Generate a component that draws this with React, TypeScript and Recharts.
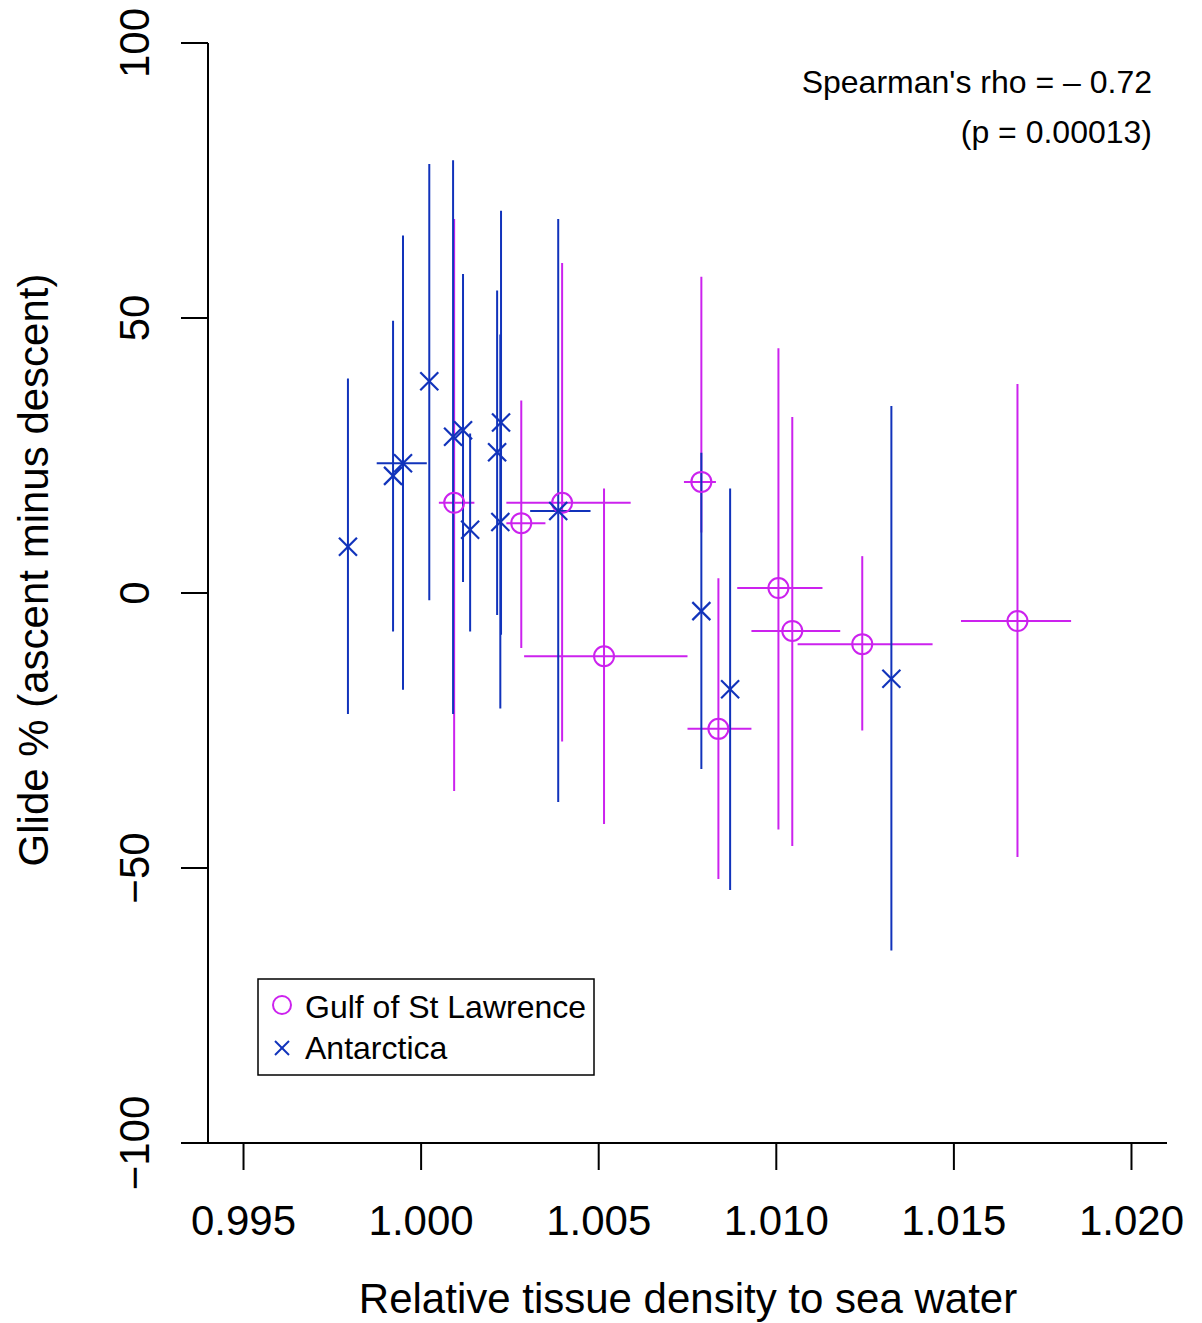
import { ScatterChart, Scatter, XAxis, YAxis, ErrorBar } from 'recharts';

const gulfX = [1.00093, 1.00282, 1.00397, 1.00515, 1.00789, 1.00837, 1.01006, 1.01045, 1.01242, 1.01679];
const gulfY = [16.4, 12.7, 16.4, -11.5, 20.2, -24.7, 0.9, -6.9, -9.3, -5.1];
const gulfYLow = [-36, -10, -27, -42, 11, -52, -43, -46, -25, -48];
const gulfYHigh = [68, 35, 60, 19, 57.5, 2.7, 44.5, 32, 6.7, 38];
const gulfXLow = [1.0005, 1.0024, 1.0024, 1.0029, 1.0074, 1.0075, 1.0089, 1.0093, 1.0106, 1.0152];
const gulfXHigh = [1.0015, 1.0035, 1.0059, 1.0075, 1.0083, 1.0093, 1.0113, 1.0118, 1.0144, 1.0183];

const antX = [0.99794, 0.99921, 0.99949, 1.00023, 1.0009, 1.00118, 1.00138, 1.00214, 1.00223, 1.00225, 1.00386, 1.00789, 1.0087, 1.01324];
const antY = [8.4, 21.3, 23.6, 38.5, 28.4, 29.6, 11.5, 25.6, 12.9, 31, 14.9, -3.3, -17.5, -15.6];
const antYLow = [-22, -7, -17.6, -1.3, -22, 2, -7, -4, -21, -7.6, -38, -32, -54, -65];
const antYHigh = [39, 49.5, 65, 78, 78.7, 58, 29, 55, 47, 69.5, 68, 25.5, 19, 34];
const antXLow = [0.99794, 0.99921, 0.99875, 1.00023, 1.0009, 1.00118, 1.00138, 1.00214, 1.00223, 1.00225, 1.00307, 1.00789, 1.0087, 1.01324];
const antXHigh = [0.99794, 0.99921, 1.00016, 1.00023, 1.0009, 1.00118, 1.00138, 1.00214, 1.00223, 1.00225, 1.00477, 1.00789, 1.0087, 1.01324];

const xTicks = [0.995, 1.0, 1.005, 1.01, 1.015, 1.02];
const yTicks = [-100, -50, 0, 50, 100];

const build = (xs: number[], ys: number[], yl: number[], yh: number[], xl: number[], xh: number[]) =>
  xs.map((x, i) => ({ x, y: ys[i], ey: [ys[i] - yl[i], yh[i] - ys[i]], ex: [x - xl[i], xh[i] - x] }));

const gulf = build(gulfX, gulfY, gulfYLow, gulfYHigh, gulfXLow, gulfXHigh);
const ant = build(antX, antY, antYLow, antYHigh, antXLow, antXHigh);

const MAG = '#cc22ee';
const BLUE = '#1133bb';
const FONT = '"Liberation Sans", Arial, sans-serif';

const Circle = (p: any) => <circle cx={p.cx} cy={p.cy} r={10} fill="none" stroke={MAG} strokeWidth={2} />;
const Cross = (p: any) => (
  <g stroke={BLUE} strokeWidth={2.2}>
    <line x1={p.cx - 9} y1={p.cy - 9} x2={p.cx + 9} y2={p.cy + 9} />
    <line x1={p.cx - 9} y1={p.cy + 9} x2={p.cx + 9} y2={p.cy - 9} />
  </g>
);

const YTick = ({ x, y, payload }: any) => (
  <text x={x - 30} y={y} transform={`rotate(-90 ${x - 30} ${y})`} textAnchor="middle" fontSize={42} fontFamily={FONT} fill="#000">
    {payload.value < 0 ? '\u2212' + Math.abs(payload.value) : payload.value}
  </text>
);
const XTick = ({ x, y, payload }: any) => (
  <text x={x} y={y + 63} textAnchor="middle" fontSize={42} fontFamily={FONT} fill="#000">
    {payload.value.toFixed(3)}
  </text>
);

export default function App() {
  return (
    <div style={{ position: 'absolute', left: 0, top: 0, width: 1202, height: 1323, background: '#fff', fontFamily: FONT }}>
      <ScatterChart width={1202} height={1323} margin={{ top: 43, right: 35, bottom: 0, left: 0 }}>
        <XAxis type="number" dataKey="x" domain={[0.994, 1.021]} ticks={xTicks} tick={<XTick />} tickSize={27}
          stroke="#000" strokeWidth={2} height={180} allowDataOverflow />
        <YAxis type="number" dataKey="y" domain={[-100, 100]} ticks={yTicks} tick={<YTick />} tickSize={27}
          stroke="#000" strokeWidth={2} width={208} allowDataOverflow />
        <Scatter data={gulf} shape={<Circle />} isAnimationActive={false}>
          <ErrorBar dataKey="ey" direction="y" width={0} stroke={MAG} strokeWidth={2} />
          <ErrorBar dataKey="ex" direction="x" width={0} stroke={MAG} strokeWidth={2} />
        </Scatter>
        <Scatter data={ant} shape={<Cross />} isAnimationActive={false}>
          <ErrorBar dataKey="ey" direction="y" width={0} stroke={BLUE} strokeWidth={2} />
          <ErrorBar dataKey="ex" direction="x" width={0} stroke={BLUE} strokeWidth={2} />
        </Scatter>
      </ScatterChart>
      <svg width={1202} height={1323} style={{ position: 'absolute', left: 0, top: 0, pointerEvents: 'none' }}>
        <text x={1152} y={93} textAnchor="end" fontSize={32} fontFamily={FONT}>Spearman's rho = – 0.72</text>
        <text x={1152} y={143} textAnchor="end" fontSize={32} fontFamily={FONT}>(p = 0.00013)</text>
        <text x={688} y={1313} textAnchor="middle" fontSize={42} fontFamily={FONT}>Relative tissue density to sea water</text>
        <text x={48} y={570} transform="rotate(-90 48 570)" textAnchor="middle" fontSize={42} fontFamily={FONT}>Glide % (ascent minus descent)</text>
        <rect x={258} y={979} width={336} height={96} fill="#fff" stroke="#000" strokeWidth={1.5} />
        <circle cx={282} cy={1005} r={9} fill="none" stroke={MAG} strokeWidth={2} />
        <g stroke={BLUE} strokeWidth={2}>
          <line x1={275} y1={1041} x2={289} y2={1055} />
          <line x1={275} y1={1055} x2={289} y2={1041} />
        </g>
        <text x={305} y={1018} fontSize={32} fontFamily={FONT}>Gulf of St Lawrence</text>
        <text x={305} y={1059} fontSize={32} fontFamily={FONT}>Antarctica</text>
      </svg>
    </div>
  );
}
